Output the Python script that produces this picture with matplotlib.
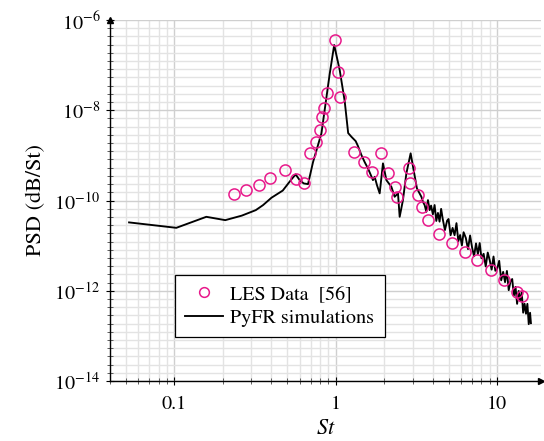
import numpy as np
import matplotlib
matplotlib.use("Agg")
import matplotlib.pyplot as plt
from matplotlib.ticker import FixedLocator, NullFormatter, LogFormatterMathtext, FuncFormatter

plt.rcParams['font.family'] = ['STIXGeneral', 'DejaVu Serif']
plt.rcParams['mathtext.fontset'] = 'stix'

# LES reference data
les_st = [0.2335, 0.280, 0.335, 0.390, 0.485, 0.565, 0.634, 0.690, 0.757, 0.796,
          0.823, 0.846, 0.888, 0.986, 1.039, 1.069, 1.293, 1.49, 1.683, 1.919,
          2.099, 2.319, 2.387, 2.832, 2.872, 3.22, 3.41, 3.74, 4.34, 5.27,
          6.29, 7.54, 9.18, 11.08, 13.24, 14.18]
les_psd = [1.365e-10, 1.70e-10, 2.19e-10, 3.09e-10, 4.72e-10, 2.94e-10, 2.39e-10, 1.15e-9, 2.0e-9, 3.64e-9,
           6.96e-9, 1.10e-8, 2.44e-8, 3.6e-7, 6.92e-8, 1.93e-8, 1.20e-9, 7.0e-10, 4.27e-10, 1.11e-9,
           3.99e-10, 1.95e-10, 1.21e-10, 5.31e-10, 2.39e-10, 1.32e-10, 7.25e-11, 3.67e-11, 1.78e-11, 1.14e-11,
           7.18e-12, 4.77e-12, 2.86e-12, 1.72e-12, 9.55e-13, 7.79e-13]

# PyFR simulation spectrum
pyfr_st = [0.0525, 0.103, 0.158, 0.207, 0.262, 0.32, 0.355, 0.40, 0.47, 0.532,
           0.565, 0.598, 0.634, 0.674, 0.724, 0.816, 0.918, 0.979, 1.059, 1.137,
           1.195, 1.256, 1.330, 1.374, 1.443, 1.512, 1.585, 1.702, 1.744, 1.802,
           1.873, 1.963, 2.061, 2.213, 2.319, 2.432, 2.491, 2.61, 2.741, 2.913,
           3.04, 3.187, 3.395, 3.473, 3.557, 3.645, 3.729, 3.82,
           3.9, 4.0, 4.1, 4.2, 4.3, 4.4, 4.5, 4.6, 4.75, 4.9,
           5.0, 5.15, 5.3, 5.45, 5.6, 5.75, 5.9, 6.05, 6.2, 6.4,
           6.6, 6.8, 7.0, 7.2, 7.4, 7.6, 7.8, 8.0, 8.25, 8.5,
           8.75, 9.0, 9.25, 9.5, 9.75, 10.0, 10.3, 10.6, 10.9, 11.2,
           11.5, 11.8, 12.1, 12.4, 12.7, 13.0, 13.3, 13.6, 13.9, 14.2,
           14.5, 14.8, 15.1, 15.4, 15.7, 16.0, 16.2]
pyfr_psd = [3.27e-11, 2.48e-11, 4.35e-11, 3.67e-11, 4.62e-11, 6.12e-11, 7.91e-11, 1.15e-10, 1.66e-10, 2.94e-10,
            3.79e-10, 2.83e-10, 2.39e-10, 2.31e-10, 7.10e-10, 3.07e-9, 6.35e-8, 2.79e-7, 7.79e-8, 1.60e-8,
            3.12e-9, 2.55e-9, 2.07e-9, 1.61e-9, 1.02e-9, 7.10e-10, 5.15e-10, 2.83e-10, 3.35e-10, 2.19e-10,
            1.44e-10, 6.65e-10, 2.83e-10, 2.01e-10, 1.21e-10, 1.44e-10, 4.35e-11, 1.02e-10, 3.99e-10, 1.11e-9,
            4.72e-10, 1.85e-10, 1.21e-10, 9.35e-11, 7.91e-11, 5.61e-11, 1.02e-10, 6.12e-11,
            7.71e-11, 4.93e-11, 7.94e-11, 3.52e-11, 5.31e-11, 3.40e-11, 6.53e-11, 3.96e-11, 2.21e-11, 3.57e-11,
            3.89e-11, 1.70e-11, 2.47e-11, 1.70e-11, 3.15e-11, 1.25e-11, 1.72e-11, 1.01e-11, 1.98e-11, 1.48e-11,
            8.36e-12, 1.68e-11, 9.02e-12, 5.83e-12, 1.12e-11, 6.49e-12, 1.14e-11, 5.26e-12, 6.59e-12, 3.45e-12,
            7.03e-12, 4.75e-12, 2.94e-12, 5.74e-12, 2.77e-12, 3.05e-12, 4.60e-12, 1.70e-12, 2.62e-12, 1.55e-12,
            2.75e-12, 1.03e-12, 1.61e-12, 1.82e-12, 7.78e-13, 1.22e-12, 5.12e-13, 9.91e-13, 5.92e-13, 9.27e-13,
            3.26e-13, 5.14e-13, 3.09e-13, 5.13e-13, 1.82e-13, 3.25e-13, 1.91e-13]

x_major = [0.1, 1, 10]
x_labels = ['0.1', '1', '10']
y_major = [1e-14, 1e-12, 1e-10, 1e-8, 1e-6]

fig = plt.figure(figsize=(5.44, 4.41), dpi=100)
ax = fig.add_axes([110/544, 60/441, 431/544, 361/441])
ax.set_xscale('log')
ax.set_yscale('log')
ax.set_xlim(0.04, 18.7)
ax.set_ylim(1e-14, 1e-6)

# ticks
ax.xaxis.set_major_locator(FixedLocator(x_major))
ax.xaxis.set_major_formatter(FuncFormatter(lambda v, p: dict(zip([0.1, 1.0, 10.0], x_labels)).get(round(v, 3), '')))
xminor = [m * 10.0**e for e in (-2, -1, 0, 1) for m in range(2, 10)]
ax.xaxis.set_minor_locator(FixedLocator(xminor))
ax.xaxis.set_minor_formatter(NullFormatter())

ax.yaxis.set_major_locator(FixedLocator(y_major))
ax.yaxis.set_major_formatter(LogFormatterMathtext())
yminor = [10.0**(-14 + 2*k/11) for k in range(0, 45)]
ax.yaxis.set_minor_locator(FixedLocator(yminor))
ax.yaxis.set_minor_formatter(NullFormatter())

ax.tick_params(which='major', direction='inout', length=6, width=0.8, labelsize=14.5, colors='black')
ax.tick_params(which='minor', direction='inout', length=4, width=0.6, colors='#444444')
ax.tick_params(axis='x', which='major', pad=8)
ax.tick_params(axis='y', which='major', pad=4)

ax.grid(True, which='minor', color='#e3e3e3', linewidth=1.0)
ax.grid(True, which='major', color='#cfcfcf', linewidth=1.0)
ax.set_axisbelow(True)

for s in ('top', 'right'):
    ax.spines[s].set_visible(False)
for s in ('left', 'bottom'):
    ax.spines[s].set_linewidth(1.0)

# arrow heads
ax.plot([0], [1], marker='^', color='black', ms=5, transform=ax.transAxes, clip_on=False)
ax.plot([1], [0], marker='>', color='black', ms=5, transform=ax.transAxes, clip_on=False)

ax.plot(pyfr_st, pyfr_psd, color='black', lw=1.35, label='PyFR simulations', zorder=3)
ax.plot(les_st, les_psd, linestyle='none', marker='o', ms=8, mfc='none', mec='#e8198b',
        mew=1.1, label='LES Data  [56]', zorder=4)

h, l = ax.get_legend_handles_labels()
leg = ax.legend(h[::-1], l[::-1], loc='upper left', bbox_to_anchor=(0.151, 0.2936),
                frameon=True, fancybox=False, edgecolor='black', framealpha=1,
                fontsize=14.5, handlelength=1.9, borderpad=0.5, labelspacing=0.3,
                handletextpad=0.35, borderaxespad=0)
leg.get_frame().set_linewidth(0.9)
leg.legend_handles[0].set_markersize(7)

ax.set_xlabel('$St$', fontsize=16, labelpad=4)
ax.set_ylabel('PSD (dB/St)', fontsize=16, labelpad=6)

fig.savefig('out.png', dpi=100)
